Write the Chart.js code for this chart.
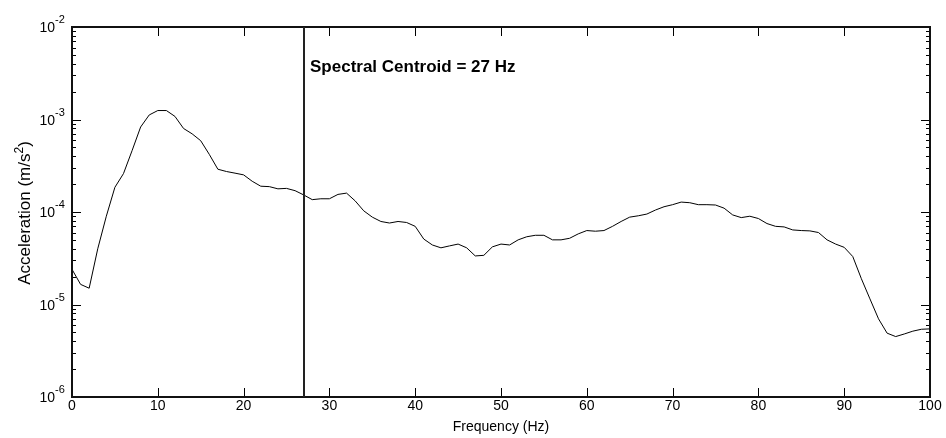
<!DOCTYPE html>
<html>
<head>
<meta charset="utf-8">
<title>Spectral Centroid</title>
<script src="https://cdn.jsdelivr.net/npm/chart.js@4.4.1/dist/chart.umd.min.js"></script>
<style>
  html, body { margin: 0; padding: 0; background: #fff; }
  #wrap { width: 946px; height: 438px; }
</style>
</head>
<body>
<div id="wrap"><canvas id="spectrum-chart" width="946" height="438"></canvas></div>
<script>
// Frequency bins (Hz)
const frequencies = [
  0, 1, 2, 3, 4, 5, 6, 7, 8, 9,
  10, 11, 12, 13, 14, 15, 16, 17, 18, 19,
  20, 21, 22, 23, 24, 25, 26, 27, 28, 29,
  30, 31, 32, 33, 34, 35, 36, 37, 38, 39,
  40, 41, 42, 43, 44, 45, 46, 47, 48, 49,
  50, 51, 52, 53, 54, 55, 56, 57, 58, 59,
  60, 61, 62, 63, 64, 65, 66, 67, 68, 69,
  70, 71, 72, 73, 74, 75, 76, 77, 78, 79,
  80, 81, 82, 83, 84, 85, 86, 87, 88, 89,
  90, 91, 92, 93, 94, 95, 96, 97, 98, 99,
  100
];

// Acceleration amplitude (m/s^2)
const acceleration = [
  2.4e-5, 1.65e-5, 1.5e-5, 4.0e-5, 9.0e-5, 1.85e-4, 2.6e-4, 4.6e-4, 8.3e-4, 1.12e-3,
  1.25e-3, 1.25e-3, 1.08e-3, 8.0e-4, 7.0e-4, 5.9e-4, 4.2e-4, 2.9e-4, 2.74e-4, 2.63e-4,
  2.52e-4, 2.15e-4, 1.9e-4, 1.88e-4, 1.78e-4, 1.8e-4, 1.7e-4, 1.53e-4, 1.36e-4, 1.39e-4,
  1.39e-4, 1.55e-4, 1.6e-4, 1.32e-4, 1.03e-4, 8.8e-5, 7.9e-5, 7.6e-5, 7.9e-5, 7.7e-5,
  7.0e-5, 5.1e-5, 4.4e-5, 4.1e-5, 4.3e-5, 4.5e-5, 4.1e-5, 3.35e-5, 3.4e-5, 4.2e-5,
  4.5e-5, 4.4e-5, 5.0e-5, 5.4e-5, 5.6e-5, 5.6e-5, 5.0e-5, 5.0e-5, 5.2e-5, 5.8e-5,
  6.3e-5, 6.2e-5, 6.3e-5, 7.0e-5, 7.9e-5, 8.8e-5, 9.1e-5, 9.5e-5, 1.05e-4, 1.14e-4,
  1.2e-4, 1.28e-4, 1.26e-4, 1.2e-4, 1.2e-4, 1.19e-4, 1.1e-4, 9.3e-5, 8.7e-5, 9.0e-5,
  8.5e-5, 7.5e-5, 7.0e-5, 6.9e-5, 6.4e-5, 6.3e-5, 6.25e-5, 6.0e-5, 5.0e-5, 4.5e-5,
  4.15e-5, 3.3e-5, 1.9e-5, 1.15e-5, 7.0e-6, 4.9e-6, 4.5e-6, 4.8e-6, 5.15e-6, 5.4e-6,
  5.45e-6
];

// Axis ticks
const xTicks = [0, 10, 20, 30, 40, 50, 60, 70, 80, 90, 100];
const yDecades = [-6, -5, -4, -3, -2];

const centroidHz = 27;
const centroidLabel = 'Spectral Centroid = 27 Hz';

const FONT = 'Arial, "Liberation Sans", Helvetica, sans-serif';

// Draws the MATLAB-style frame, inward ticks, power-of-ten labels and the centroid marker
const matlabFrame = {
  id: 'matlabFrame',
  afterDatasetsDraw(chart) {
    const { ctx, chartArea: a, scales: { x, y } } = chart;
    ctx.save();
    ctx.strokeStyle = '#000';
    ctx.lineWidth = 1;

    // x ticks, bottom and top
    ctx.beginPath();
    xTicks.forEach(v => {
      const px = Math.round(x.getPixelForValue(v)) + 0.5;
      ctx.moveTo(px, a.bottom); ctx.lineTo(px, a.bottom - 9);
      ctx.moveTo(px, a.top); ctx.lineTo(px, a.top + 9);
    });

    // y ticks, left and right (major + minor)
    yDecades.forEach(d => {
      for (let m = 1; m <= 9; m++) {
        const v = m * Math.pow(10, d);
        if (v > y.max * 1.0001) break;
        const py = Math.round(y.getPixelForValue(v)) + 0.5;
        const len = m === 1 ? 9 : 4;
        ctx.moveTo(a.left, py); ctx.lineTo(a.left + len, py);
        ctx.moveTo(a.right, py); ctx.lineTo(a.right - len, py);
      }
    });
    ctx.stroke();

    // frame
    ctx.lineWidth = 2;
    ctx.strokeStyle = '#111';
    ctx.strokeRect(a.left, a.top, a.width, a.height);

    // spectral centroid line
    const cx = Math.round(x.getPixelForValue(centroidHz));
    ctx.lineWidth = 2;
    ctx.strokeStyle = '#222';
    ctx.beginPath();
    ctx.moveTo(cx, a.top);
    ctx.lineTo(cx, a.bottom);
    ctx.stroke();

    // centroid label
    ctx.fillStyle = '#000';
    ctx.font = 'bold 17px ' + FONT;
    ctx.textAlign = 'left';
    ctx.textBaseline = 'alphabetic';
    ctx.fillText(centroidLabel, cx + 6, 72);

    // y labels: 10 with superscript exponent
    yDecades.forEach(d => {
      const py = y.getPixelForValue(Math.pow(10, d));
      ctx.font = '14px ' + FONT;
      ctx.textAlign = 'right';
      ctx.fillText('10', a.left - 17, py + 5);
      ctx.font = '11px ' + FONT;
      ctx.textAlign = 'left';
      ctx.fillText(String(d), a.left - 17, py - 4);
    });

    // y title with superscript 2, rotated
    const parts = [
      { text: 'Acceleration (m/s', size: 17, dy: 0 },
      { text: '2', size: 12, dy: -7 },
      { text: ')', size: 17, dy: 0 }
    ];
    let total = 0;
    parts.forEach(p => {
      ctx.font = p.size + 'px ' + FONT;
      p.w = ctx.measureText(p.text).width;
      total += p.w;
    });
    const midY = (a.top + a.bottom) / 2 + 1;
    ctx.translate(30, midY + total / 2);
    ctx.rotate(-Math.PI / 2);
    let cur = 0;
    parts.forEach(p => {
      ctx.font = p.size + 'px ' + FONT;
      ctx.fillText(p.text, cur, p.dy);
      cur += p.w;
    });

    ctx.restore();
  }
};

const ctx = document.getElementById('spectrum-chart').getContext('2d');

window.spectrumChart = new Chart(ctx, {
  type: 'line',
  data: {
    datasets: [{
      label: 'Acceleration',
      data: frequencies.map((f, i) => ({ x: f, y: acceleration[i] })),
      borderColor: '#000',
      borderWidth: 1,
      pointRadius: 0,
      tension: 0,
      fill: false
    }]
  },
  options: {
    responsive: false,
    animation: false,
    layout: {
      padding: { left: 0, top: 27, right: 16, bottom: 0 }
    },
    scales: {
      x: {
        type: 'linear',
        min: 0,
        max: 100,
        afterBuildTicks: scale => {
          scale.ticks = xTicks.map(v => ({ value: v }));
        },
        afterFit: scale => { scale.height = 41; },
        grid: { display: false, drawTicks: false },
        border: { display: false },
        ticks: {
          color: '#000',
          padding: 1,
          maxRotation: 0,
          font: { family: FONT, size: 14 }
        },
        title: {
          display: true,
          text: 'Frequency (Hz)',
          color: '#000',
          padding: { top: 0, bottom: 2 },
          font: { family: FONT, size: 14 }
        }
      },
      y: {
        type: 'logarithmic',
        min: 1e-6,
        max: 1e-2,
        afterFit: scale => { scale.width = 72; },
        grid: { display: false, drawTicks: false },
        border: { display: false },
        ticks: { display: false }
      }
    },
    plugins: {
      legend: { display: false },
      tooltip: { enabled: false }
    }
  },
  plugins: [matlabFrame]
});
</script>
</body>
</html>
